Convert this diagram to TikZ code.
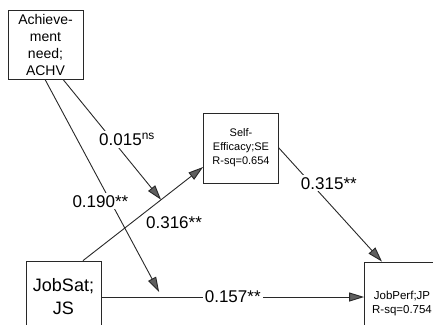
\documentclass[tikz,border=0pt]{standalone}
\usepackage{fontspec}
\setmainfont{Liberation Sans}
\usetikzlibrary{arrows.meta}
\definecolor{linegrey}{RGB}{40,40,40}
\definecolor{tipgrey}{RGB}{95,95,95}
\newcommand{\lblsize}{\fontsize{17}{20}\selectfont}

\begin{document}
\begin{tikzpicture}[x=1pt,y=-1pt,
    box/.style={draw=linegrey,line width=0.8pt,fill=white,minimum width=75pt,
                minimum height=70pt,inner sep=0pt,align=center},
    arr/.style={draw=linegrey,line width=0.9pt,-{Triangle[length=15pt,width=9pt,fill=tipgrey]}},
    lbl/.style={fill=white,inner sep=2pt,font=\lblsize}]
\useasboundingbox (0,0) rectangle (433,324);
\clip (0,0) rectangle (433,324);
% constructs
\node[box,minimum height=69pt,font=\fontsize{14}{17}\selectfont] (achv) at (45.5,44.5) {Achieve-\\ment\\need;\\ACHV};
\node[box,font=\fontsize{11}{14}\selectfont] (se) at (241,148) {Self-\\Efficacy;SE\\R-sq=0.654};
\node[box,minimum height=72pt,font=\fontsize{18}{23}\selectfont] (js) at (63.5,297) {JobSat;\\JS};
\node[box,minimum height=84pt,font=\fontsize{11.5}{14}\selectfont] (jp) at (402,304) {JobPerf;JP\\R-sq=0.754};
% direct paths
\draw[arr] ([xshift=19.5pt]js.north) -- node[lbl,xshift=31pt,yshift=-9pt]{0.316**}
    coordinate[pos=0.65] (mse) ([yshift=-19pt]se.west);
\draw[arr] (js.east) -- node[lbl]{0.157**} coordinate[pos=0.23] (mjp) (js.east -| jp.west);
\draw[arr] (se.east) -- node[lbl,pos=0.31,xshift=18pt]{0.315**} ([xshift=-20pt]jp.north);
% moderating paths
\draw[arr] ([xshift=17.5pt]achv.south) -- node[lbl,pos=0.5,xshift=15pt]{0.015\textsuperscript{ns}} (mse);
\draw[arr,shorten >=5.7pt] ([xshift=-0.5pt]achv.south) -- node[lbl,pos=0.56,xshift=-10pt]{0.190**} (mjp);
\end{tikzpicture}
\end{document}
